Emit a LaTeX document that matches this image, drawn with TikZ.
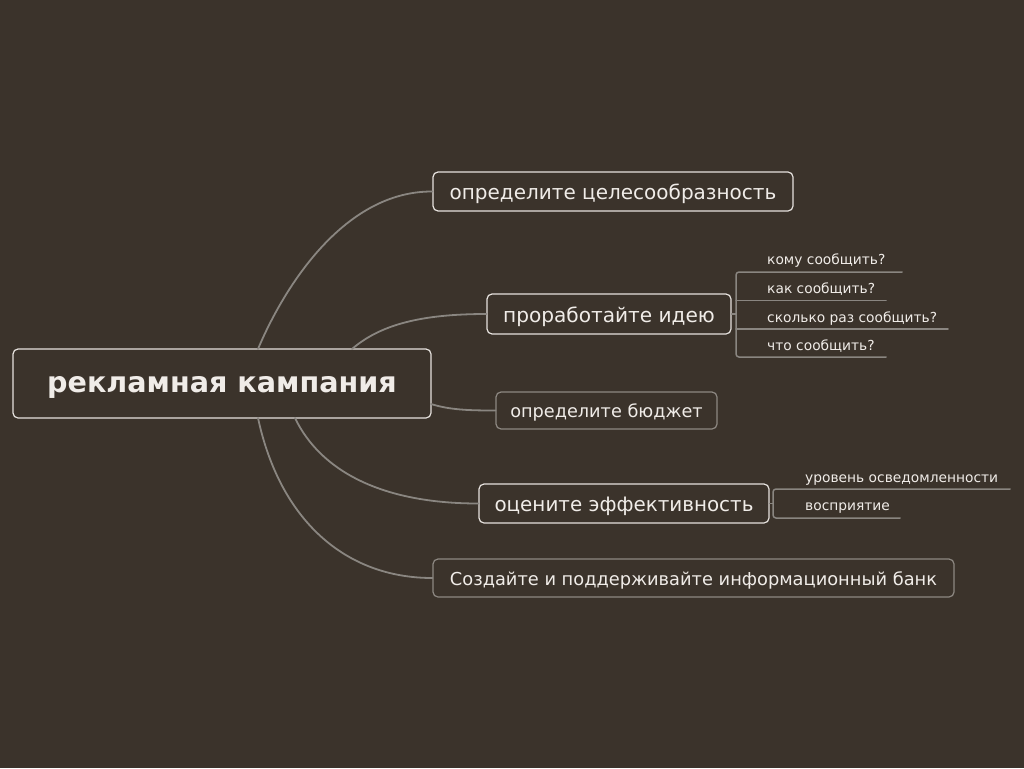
\documentclass[tikz,border=0pt]{standalone}
\usepackage{fontspec}
\setmainfont{DejaVu Sans}
\definecolor{bg}{RGB}{59,51,43}
\definecolor{txt}{RGB}{240,236,232}
\definecolor{lightline}{RGB}{230,226,222}
\definecolor{greyline}{RGB}{141,136,130}
\definecolor{linkline}{RGB}{138,134,129}

\begin{document}
\begin{tikzpicture}[line cap=round,line join=round,x=1pt,y=-1pt,
    topic/.style={draw=lightline,line width=1.2pt,rounded corners=5pt,text=txt,inner sep=0pt,text depth=0pt},
    dimtopic/.style={topic,draw=greyline},
    sub/.style={text=txt,inner sep=0pt,anchor=base west,font=\fontsize{13.8}{16}\selectfont},
    link/.style={draw=linkline,line width=1.8pt}]
    \fill[bg] (0,0) rectangle (1024,768);
    \useasboundingbox (0,0) rectangle (1024,768);
    % central topic
    \node[topic,minimum width=418,minimum height=69,text height=18.6pt,font=\bfseries\fontsize{28.6}{32}\selectfont] (root) at (222,383.5) {рекламная кампания};
    % main topics
    \node[topic,minimum width=360,minimum height=39,text height=15.9pt,font=\fontsize{20}{23}\selectfont] (goal) at (613,191.5) {определите целесообразность};
    \node[topic,minimum width=244,minimum height=40,text height=17.4pt,font=\fontsize{20.1}{25}\selectfont] (idea) at (609,314) {проработайте идею};
    \node[dimtopic,minimum width=221,minimum height=37,text height=13.6pt,font=\fontsize{17.7}{21}\selectfont] (budget) at (606.5,410.5) {определите бюджет};
    \node[topic,minimum width=290,minimum height=39,text height=15.4pt,font=\fontsize{19.9}{25}\selectfont] (effect) at (624,503.5) {оцените эффективность};
    \node[dimtopic,minimum width=521,minimum height=38,text height=14.3pt,font=\fontsize{17.8}{21}\selectfont] (bank) at (693.5,578) {Создайте и поддерживайте информационный банк};
    % points on the central topic
    \coordinate (rgoal) at (258,349);
    \coordinate (ridea) at (352,349);
    \coordinate (rbudget) at (431,404);
    \coordinate (reffect) at (295,418);
    \coordinate (rbank) at (258,418);
    \draw[link] (rgoal) .. controls (285,285) and (345,191) .. (goal.west);
    \draw[link] (ridea) .. controls (380,325) and (420,314) .. (idea.west);
    \draw[link] (rbudget) .. controls (450,410) and (470,410.5) .. (budget.west);
    \draw[link] (reffect) .. controls (320,470) and (380,503.5) .. (effect.west);
    \draw[link] (rbank) .. controls (280,520) and (345,578) .. (bank.west);
    % subtopics of idea
    \node[sub] (who) at (767,264) {кому сообщить?};
    \node[sub] (how) at (767,293) {как сообщить?};
    \node[sub] (often) at (767,322) {сколько раз сообщить?};
    \node[sub] (what) at (767,350) {что сообщить?};
    \coordinate (sidea) at (736,314);
    \draw[link,line width=1.5pt] (idea.east) -- (sidea);
    \draw[link,line width=1.5pt,rounded corners=3pt] (902,272) -- (736,272) -- (736,357) -- (886,357);
    \draw[link,line width=1.5pt] (736,300.5) -- (886,300.5);
    \draw[link,line width=1.5pt] (736,329) -- (948,329);
    % subtopics of effect
    \node[sub] (aware) at (805,482) {уровень осведомленности};
    \node[sub] (percep) at (805,510) {восприятие};
    \coordinate (seffect) at (773,503.5);
    \draw[link,line width=1.5pt] (effect.east) -- (seffect);
    \draw[link,line width=1.5pt,rounded corners=3pt] (1010,489) -- (773,489) -- (773,518) -- (900,518);
\end{tikzpicture}
\end{document}
